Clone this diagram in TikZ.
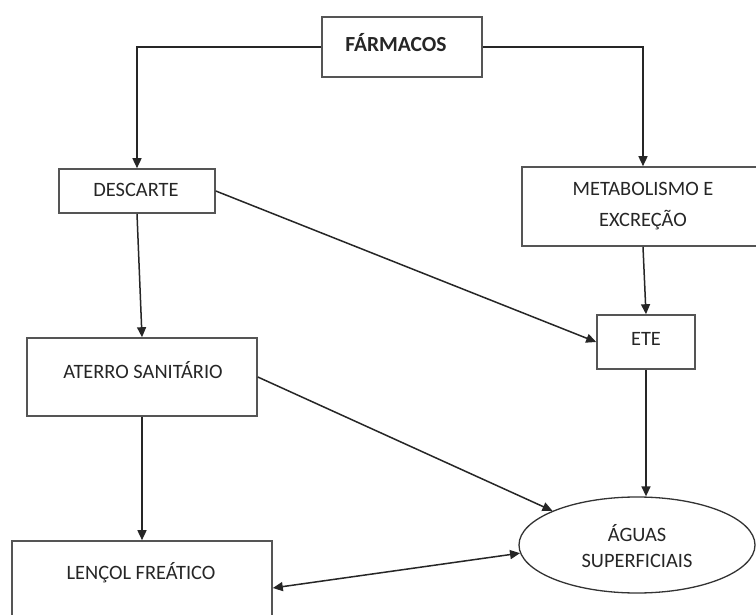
\documentclass[tikz,border=0pt]{standalone}
\usepackage{fontspec}
\setmainfont{Carlito}
\usetikzlibrary{arrows.meta,shapes.geometric}
\definecolor{txt}{HTML}{262626}
\definecolor{bord}{HTML}{555555}
\begin{document}
\begin{tikzpicture}[x=1pt,y=-1pt,
  box/.style={draw=bord,line width=1.6pt,rectangle,inner sep=0pt},
  lbl/.style={text=txt,font=\fontsize{20.4}{26}\selectfont,inner sep=0pt,align=center},
  arr/.style={draw=black!85,line width=1.5pt,-{Triangle[length=10pt,width=9pt]}},
  darr/.style={draw=black!85,line width=1.5pt,{Triangle[length=10pt,width=9pt]}-{Triangle[length=10pt,width=9pt]}}]
\useasboundingbox[fill=white] (0,0) rectangle (756,615);
% boxes
\node[box,minimum width=160pt,minimum height=60pt] (farm) at (402,47) {};
\node[lbl,font=\bfseries\fontsize{21.5}{26}\selectfont] (tfarm) at (396,43) {FÁRMACOS};
\node[box,minimum width=156pt,minimum height=44pt] (desc) at (137,191) {};
\node[lbl] (tdesc) at (136,190) {DESCARTE};
\node[box,minimum width=242pt,minimum height=79pt] (meta) at (643,206.5) {};
\node[lbl,font=\fontsize{20.4}{31}\selectfont] (tmeta) at (643,206) {METABOLISMO E\\EXCREÇÃO};
\node[box,minimum width=98pt,minimum height=54pt] (ete) at (646,342) {};
\node[lbl] (tete) at (646,339) {ETE};
\node[box,minimum width=230pt,minimum height=78pt] (ater) at (142,377) {};
\node[lbl] (tater) at (143,370) {ATERRO SANITÁRIO};
\node[box,minimum width=260pt,minimum height=94pt] (lenc) at (142,588) {};
\node[lbl] (tlenc) at (141,573) {LENÇOL FREÁTICO};
\node[draw=black!80,line width=1.3pt,ellipse,minimum width=236pt,minimum height=96pt,inner sep=0pt] (agua) at (637,545) {};
\node[lbl] (tagua) at (637,546) {ÁGUAS\\SUPERFICIAIS};
% connectors
\draw[arr] (farm.west) -| (desc.north);
\draw[arr] (farm.east) -| (meta.north);
\draw[arr] (desc.south) -- (ater.north);
\draw[arr] (ater.south) -- (lenc.north);
\draw[arr] (desc.east) -- (ete.west);
\draw[arr] (meta.south) -- (ete.north);
\draw[arr] (ete.south) -- (ete.south |- agua.north);
\draw[arr] (ater.east) -- (agua.158);
\draw[darr] (lenc.east) -- (agua.184);
\end{tikzpicture}
\end{document}
